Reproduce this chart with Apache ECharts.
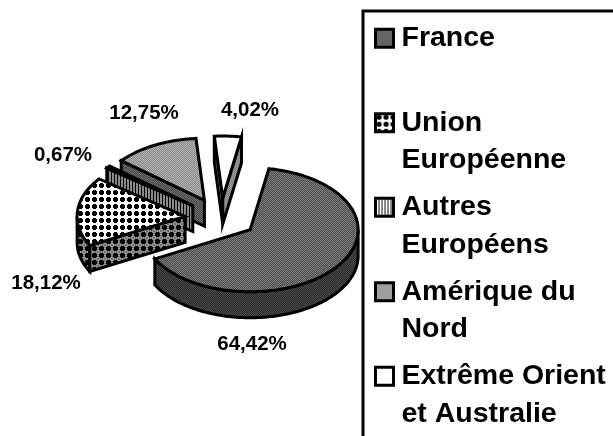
<!DOCTYPE html>
<html>
<head>
<meta charset="utf-8">
<script src="https://cdn.jsdelivr.net/npm/echarts@6/dist/echarts.min.js"></script>
<style>
  html, body { margin: 0; padding: 0; background: #fff; }
  #chart { width: 613px; height: 436px; }
</style>
</head>
<body>
<div id="chart"></div>
<script>
const categories = ['France', 'Union Européenne', 'Autres Européens', 'Amérique du Nord', 'Extrême Orient et Australie'];
const shares = [64.42, 18.12, 0.67, 12.75, 4.02];
const shareLabels = ['64,42%', '18,12%', '0,67%', '12,75%', '4,02%'];
const legendLabels = ['France\n ', 'Union\nEuropéenne', 'Autres\nEuropéens', 'Amérique du\nNord', 'Extrême Orient\net Australie'];

// pie layout, in pixels
const cx = 221, cy = 218, rx = 108, ry = 62, depth = 26;
const explodeX = 36, explodeY = 20;
const startAngle = 10;
const labelPos = [[252, 344], [46, 283], [63, 155], [144, 113], [250, 110]];
const FONT = '"Liberation Sans", Arial, sans-serif';

function tile(w, h, draw) {
  const c = document.createElement('canvas');
  c.width = w;
  c.height = h;
  draw(c.getContext('2d'));
  return { image: c, repeat: 'repeat' };
}
function dither(a, b) {
  return tile(2, 2, g => {
    g.fillStyle = a; g.fillRect(0, 0, 2, 2);
    g.fillStyle = b; g.fillRect(0, 0, 1, 1); g.fillRect(1, 1, 1, 1);
  });
}
function crosses(bg) {
  return tile(7, 7, g => {
    if (bg.length === 2) {
      g.fillStyle = bg[0]; g.fillRect(0, 0, 7, 7);
      g.fillStyle = bg[1];
      for (let i = 0; i < 7; i++) for (let j = 0; j < 7; j++) if ((i + j) % 2) g.fillRect(i, j, 1, 1);
    } else {
      g.fillStyle = bg[0]; g.fillRect(0, 0, 7, 7);
    }
    g.fillStyle = '#000';
    g.fillRect(2, 1, 3, 5);
    g.fillRect(1, 2, 5, 3);
  });
}
function stripes(a, b) {
  return tile(3, 3, g => {
    g.fillStyle = a; g.fillRect(0, 0, 3, 3);
    g.fillStyle = b; g.fillRect(0, 0, 1, 3);
  });
}

const topFills = [
  dither('#4c4c4c', '#7c7c7c'),
  crosses(['#fff']),
  crosses(['#fff']),
  dither('#8c8c8c', '#b0b0b0'),
  '#fff'
];
const sideFills = [
  dither('#2c2c2c', '#484848'),
  crosses(['#707070', '#9a9a9a']),
  stripes('#8a8a8a', '#000'),
  dither('#484848', '#6c6c6c'),
  dither('#808080', '#9a9a9a')
];
const legendFills = [topFills[0], topFills[1], stripes('#fff', '#000'), topFills[3], '#fff'];

const total = shares.reduce((a, b) => a + b, 0);
let run = startAngle;
const slices = shares.map(v => {
  const a = run;
  run += v / total * 360;
  return { a, b: run };
});

function sliceShapes(i) {
  const { a, b } = slices[i];
  const rad = d => d * Math.PI / 180;
  const mid = rad((a + b) / 2);
  const ox = cx + explodeX * Math.sin(mid);
  const oy = cy - explodeY * Math.cos(mid);
  const at = (d, dz) => [ox + rx * Math.sin(rad(d)), oy - ry * Math.cos(rad(d)) + dz];
  const line = { stroke: '#000', lineWidth: 3, lineJoin: 'miter' };
  const poly = (points, fill) => ({
    type: 'polygon',
    shape: { points },
    style: Object.assign({ fill }, line)
  });
  const children = [];

  // outer wall, only the part of the arc that faces the viewer
  const w0 = Math.max(a, 90), w1 = Math.min(b, 270);
  if (w1 > w0) {
    const upper = [], lower = [];
    for (let d = w0; d < w1; d += 1) { upper.push(at(d, 0)); lower.push(at(d, depth)); }
    upper.push(at(w1, 0));
    lower.push(at(w1, depth));
    children.push(poly(upper.concat(lower.reverse()), sideFills[i]));
  }
  // cut faces
  if (Math.sin(rad(a)) < 0) {
    children.push(poly([[ox, oy], at(a, 0), at(a, depth), [ox, oy + depth]], sideFills[i]));
  }
  if (Math.sin(rad(b)) > 0) {
    children.push(poly([[ox, oy], at(b, 0), at(b, depth), [ox, oy + depth]], sideFills[i]));
  }
  // top face
  const top = [[ox, oy]];
  for (let d = a; d < b; d += 1) top.push(at(d, 0));
  top.push(at(b, 0));
  children.push(poly(top, topFills[i]));

  children.push({
    type: 'text',
    x: labelPos[i][0],
    y: labelPos[i][1],
    style: {
      text: shareLabels[i],
      font: 'bold 20.5px ' + FONT,
      fill: '#000',
      align: 'center',
      verticalAlign: 'middle'
    }
  });
  return { type: 'group', children };
}

// back slices first so the front ones overlap them
const drawOrder = [4, 3, 2, 1, 0];

const chart = echarts.init(document.getElementById('chart'));
chart.setOption({
  animation: false,
  backgroundColor: '#fff',
  legend: {
    left: 374,
    top: -18,
    width: 239,
    height: 600,
    orient: 'vertical',
    padding: 0,
    itemWidth: 18,
    itemHeight: 18,
    itemGap: -28,
    selectedMode: false,
    formatter: name => '\n' + legendLabels[categories.indexOf(name)],
    textStyle: {
      fontFamily: FONT,
      fontWeight: 'bold',
      fontSize: 28.5,
      lineHeight: 37.5,
      color: '#000',
      padding: [0, 0, 0, 3]
    },
    data: categories.map((name, i) => ({
      name,
      icon: 'rect',
      itemStyle: { color: legendFills[i], borderColor: '#000', borderWidth: 3 }
    }))
  },
  graphic: [{
    type: 'polyline',
    shape: { points: [[363, 440], [363, 11], [620, 11]] },
    style: { fill: 'none', stroke: '#000', lineWidth: 3 }
  }],
  series: drawOrder.map(i => ({
    type: 'custom',
    name: categories[i],
    coordinateSystem: 'none',
    silent: true,
    itemStyle: { color: legendFills[i] },
    data: [shares[i]],
    renderItem: () => sliceShapes(i)
  }))
});
</script>
</body>
</html>
